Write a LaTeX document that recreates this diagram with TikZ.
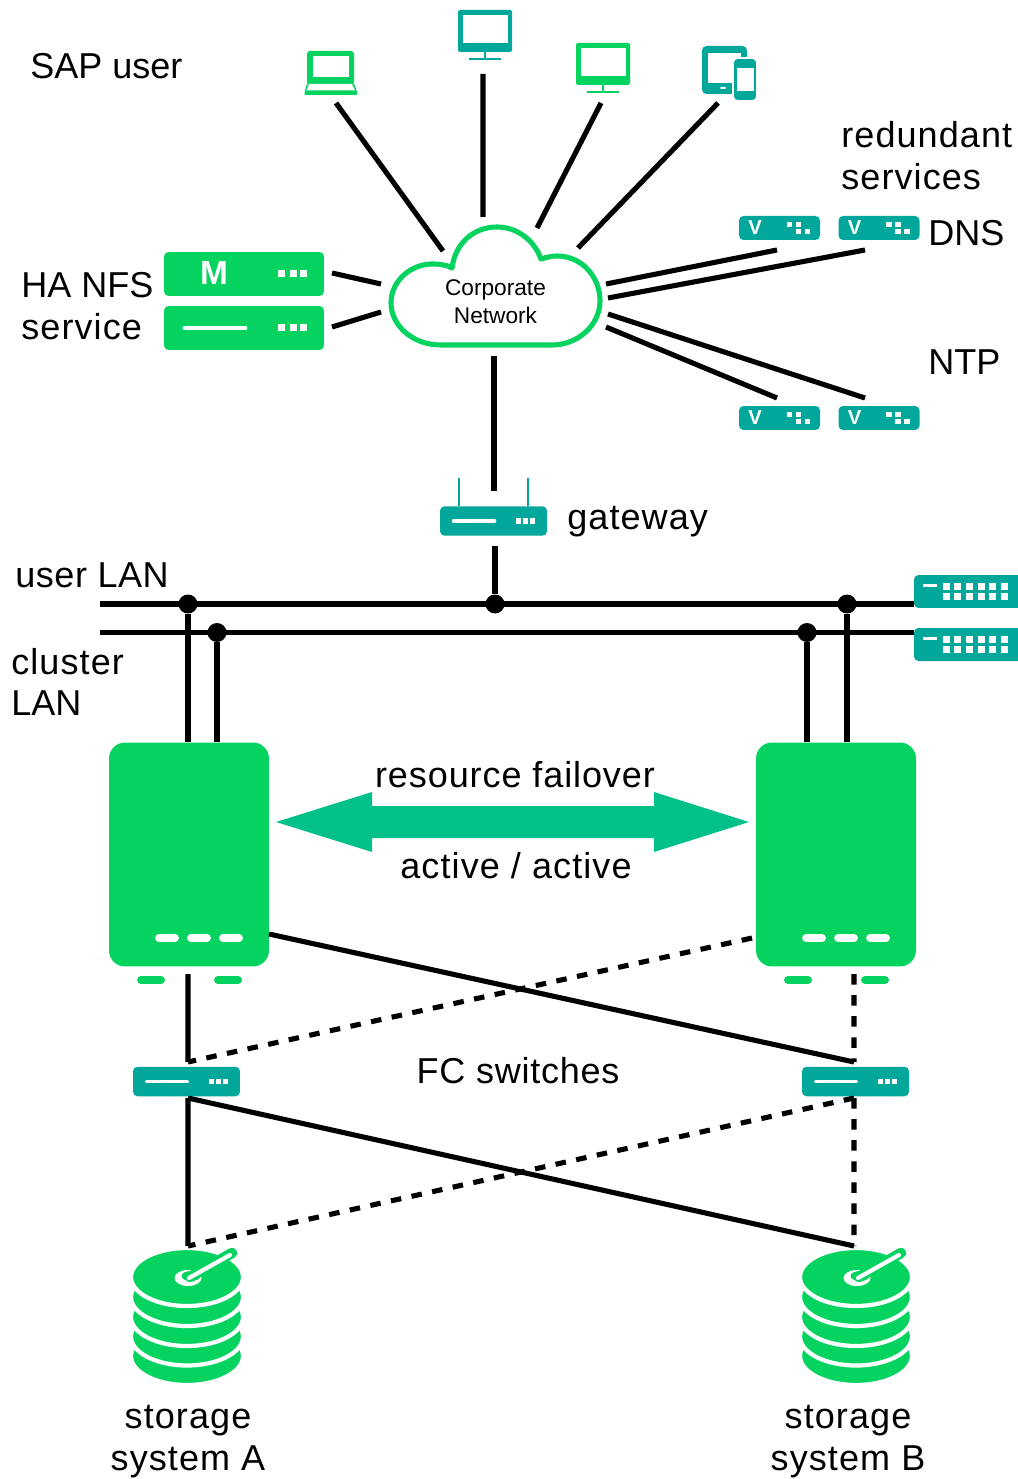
\documentclass[tikz,border=0pt]{standalone}
\usepackage{fontspec}
\setmainfont{Liberation Sans}
\usetikzlibrary{shapes.geometric}
\definecolor{netgreen}{HTML}{05D35F}
\definecolor{netteal}{HTML}{02A79B}
\definecolor{netarrow}{HTML}{02C08A}
\newcommand{\portrow}[3]{\foreach \sx in {#1} \fill[white] (\sx-#3/2,#2-#3/2) rectangle ++(#3,#3);}
\newcommand{\wideword}{\addfontfeature{LetterSpace=3}}
\tikzset{
  netlink/.style={line width=2.9pt},
  netdash/.style={line width=2.9pt,dash pattern=on 6pt off 6pt},
  labeltext/.style={inner sep=0pt,font=\fontsize{20.5}{23.8}\selectfont,align=left},
  joindot/.style={circle,fill=black,inner sep=0pt,minimum size=0.38cm},
  devbox/.style={rectangle,rounded corners=0.09cm,inner sep=0pt,fill=#1},
  pics/rackbox/.style={code={
    \node[devbox=netgreen,minimum width=3.2cm,minimum height=0.88cm] (box) at (0,0) {};
    \portrow{37.5,49,59.5}{0}{7}
  }},
  pics/vbox/.style={code={
    \node[devbox=netteal,minimum width=1.62cm,minimum height=0.48cm] (box) at (0,0) {};
    \node[white,inner sep=0pt,font=\fontsize{11.5}{12}\bfseries\selectfont] (tag) at (-24.5,0) {V};
    \portrow{10,19}{-3.5}{5.5}
    \portrow{19,28}{3.5}{5.5}
  }},
  pics/routerbox/.style={code={
    \node[devbox=netteal,minimum width=2.14cm,minimum height=0.59cm] (box) at (0,0) {};
    \draw[white,line width=2pt,line cap=round] (-40,0) -- (1,0);
    \portrow{25,32,39}{0}{5.5}
  }},
  pics/lanbox/.style={code={
    \node[devbox=netteal,minimum width=2.2cm,minimum height=0.66cm] (box) at (0,0) {};
    \draw[white,line width=1.7pt] (-46,-6) -- (-32,-6);
    \portrow{-23,-12,0,12,23,35}{-5}{7}
    \portrow{-23,-12,0,12,23,35}{5}{7}
  }},
  pics/monitorbox/.style={code={
    \node[devbox=#1,rounded corners=0.03cm,minimum width=1.08cm,minimum height=0.84cm] (box) at (0,0) {};
    \fill[white] (-22.5,-16) rectangle (22.5,12);
    \draw[#1,line width=1.1pt] (0,21) -- (0,28) (-16,28) -- (16,28);
  }},
  pics/serverbox/.style={code={
    \node[rectangle,rounded corners=0.32cm,inner sep=0pt,fill=netgreen,minimum width=3.2cm,minimum height=4.48cm] (box) at (0,0) {};
    \foreach \sx in {-22,10,42} \draw[white,line width=4.5pt,line cap=round] (\sx-8,83.5) -- (\sx+8,83.5);
    \foreach \sx in {-48,29} \draw[netgreen,line width=4.5pt,line cap=round] (\sx,125.5) -- (\sx+20,125.5);
  }},
  pics/diskstack/.style={code={
    \foreach \sy in {79,59.5,40,20} \fill[netgreen,draw=white,line width=2.4pt] (0,\sy) ellipse (56 and 29);
    \node[ellipse,fill=netgreen,draw=white,line width=2.4pt,inner sep=0pt,outer sep=0pt,minimum width=2.24cm,minimum height=1.16cm] (box) at (0,0) {};
    \fill[white] (1,1) ellipse (13.5 and 8);
    \fill[netgreen] (4,-1) ellipse (9.5 and 5);
    \draw[netgreen,line width=6pt,line cap=round] (3,0) -- (45,-24);
    \draw[white,line width=2.4pt,line cap=round] (2,1) -- (43,-22);
  }}
}
\begin{document}
\begin{tikzpicture}[x=0.02cm,y=-0.02cm]
    \useasboundingbox (0,0) rectangle (1017,1479);
    %
    \coordinate (lap) at (336,103);
    \coordinate (mona) at (483,74);
    \coordinate (monb) at (601,103);
    \coordinate (tab) at (718,103);
    \coordinate (cllap) at (443,251);
    \coordinate (clmona) at (483,217);
    \coordinate (clmonb) at (537,228);
    \coordinate (cltab) at (578,248);
    \coordinate (nfsa) at (332,273);
    \coordinate (nfsb) at (332,327);
    \coordinate (clnfsa) at (381,284);
    \coordinate (clnfsb) at (381,312);
    \coordinate (dnsa) at (777,250);
    \coordinate (dnsb) at (865,250);
    \coordinate (ntpa) at (777,398);
    \coordinate (ntpb) at (865,398);
    \coordinate (cldnsa) at (606,284);
    \coordinate (cldnsb) at (608,298);
    \coordinate (clntpb) at (608,314);
    \coordinate (clntpa) at (606,327);
    \coordinate (clgate) at (494,356);
    \coordinate (gatetop) at (494,491);
    \coordinate (gatelow) at (495,546);
    \coordinate (userend) at (100,604);
    \coordinate (clustend) at (100,632.5);
    %
    \coordinate (srvaout) at (269,934);
    \coordinate (srvbout) at (752,938);
    \coordinate (srvalow) at (188,974);
    \coordinate (srvblow) at (854,974);
    \coordinate (fcatop) at (188,1062);
    \coordinate (fcbtop) at (854,1062);
    \coordinate (fcalow) at (188,1098);
    \coordinate (fcblow) at (854,1098);
    \coordinate (diskatop) at (188,1246);
    \coordinate (diskbtop) at (854,1246);
    %
    % cloud
    \draw[netgreen,line width=2.9pt,line join=round] (441,345)
      .. controls (412,345) and (391,325) .. (391,303)
      .. controls (391,280) and (412,264) .. (432,264)
      .. controls (440,264) and (447,265) .. (452,268)
      .. controls (455,244) and (473,227) .. (497,227)
      .. controls (517,227) and (534,240) .. (541,259)
      .. controls (547,257) and (553,256) .. (557,256)
      .. controls (582,256) and (600,277) .. (600,301)
      .. controls (600,325) and (578,345) .. (552,345) -- cycle;
    \node[inner sep=0pt,align=center,font=\fontsize{12.9}{15.9}\selectfont] (corpnet) at (495.5,302) {Corporate\\Network};
    %
    % clients
    \fill[netgreen,rounded corners=0.06cm] (307,51) rectangle (354,85);
    \fill[white] (313,56) rectangle (349,77);
    \fill[netgreen,rounded corners=0.04cm] (307,83) -- (354,83) -- (358,95) -- (304,95) -- cycle;
    \fill[white] (309,84) -- (352,84) -- (355,90.5) -- (306.5,90.5) -- cycle;
    \pic (usera) at (485,31) {monitorbox=netteal};
    \pic (userb) at (603,64) {monitorbox=netgreen};
    \node[devbox=netteal,minimum width=0.9cm,minimum height=0.96cm] (tablet) at (724.5,70) {};
    \fill[white] (708,53) rectangle (741,83);
    \fill[white,rounded corners=0.02cm] (720,87) rectangle (726,89);
    \node[devbox=netteal,draw=white,line width=1pt,minimum width=0.48cm,minimum height=0.86cm] (phone) at (745,79.5) {};
    \fill[white] (736.5,68) rectangle (753.5,91);
    %
    % services
    \pic (nfsm) at (244,274) {rackbox};
    \pic (nfss) at (244,328) {rackbox};
    \node[white,inner sep=0pt,font=\fontsize{19}{20}\bfseries\selectfont] (nfsmtag) at (214,273.5) {M};
    \draw[white,line width=2.8pt,line cap=round] (185,328) -- (245,328);
    \pic (dnsl) at (779.5,228) {vbox};
    \pic (dnsr) at (879,228) {vbox};
    \pic (ntpl) at (779.5,418) {vbox};
    \pic (ntpr) at (879,418) {vbox};
    %
    \pic (gate) at (493.5,521) {routerbox};
    \draw[netteal,line width=1.6pt] (459,506) -- (459,478) (528,506) -- (528,478);
    %
    \pic (lanu) at (969,591.5) {lanbox};
    \pic (lanc) at (969,644.5) {lanbox};
    \pic (srva) at (189,854.5) {serverbox};
    \pic (srvb) at (836,854.5) {serverbox};
    \pic (fca) at (186.5,1081.5) {routerbox};
    \pic (fcb) at (855.5,1081.5) {routerbox};
    \pic (diska) at (187,1277) {diskstack};
    \pic (diskb) at (856,1277) {diskstack};
    %
    \node[joindot] (joinua) at (188,604) {};
    \node[joindot] (joing) at (495,604) {};
    \node[joindot] (joinub) at (847,604) {};
    \node[joindot] (joinca) at (217,632.5) {};
    \node[joindot] (joincb) at (807,632.5) {};
    %
    \draw[netlink] (lap) -- (cllap) (mona) -- (clmona) (monb) -- (clmonb) (tab) -- (cltab);
    \draw[netlink] (nfsa) -- (clnfsa) (nfsb) -- (clnfsb);
    \draw[netlink] (dnsa) -- (cldnsa) (dnsb) -- (cldnsb) (ntpa) -- (clntpa) (ntpb) -- (clntpb);
    \draw[netlink] (clgate) -- (gatetop) (gatelow) -- (joing);
    \draw[netlink] (userend) -- (lanubox.west |- userend);
    \draw[netlink] (clustend) -- (lancbox.west |- clustend);
    \draw[netlink] (joinua) -- (srvabox.north -| joinua);
    \draw[netlink] (joinca) -- (srvabox.north -| joinca);
    \draw[netlink] (joincb) -- (srvbbox.north -| joincb);
    \draw[netlink] (joinub) -- (srvbbox.north -| joinub);
    %
    \draw[netlink] (srvaout) -- (fcbtop) (srvalow) -- (fcatop);
    \draw[netdash] (srvbout) -- (fcatop) (srvblow) -- (fcbtop);
    \draw[netlink] (fcalow) -- (diskbtop) (fcalow) -- (diskatop);
    \draw[netdash] (fcblow) -- (diskatop) (fcblow) -- (diskbtop);
    %
    \fill[netarrow] (276,822) -- (372,792) -- (372,806) -- (654,806) -- (654,792) -- (749,822)
      -- (654,852) -- (654,838) -- (372,838) -- (372,852) -- cycle;
    %
    \node[labeltext,anchor=west] (sapuser) at (30,66) {SAP user};
    \node[labeltext,anchor=west] (redund) at (841,156) {\wideword redundant\\\wideword services};
    \node[labeltext,anchor=west] (dnslabel) at (928,233) {DNS};
    \node[labeltext,anchor=west] (ntplabel) at (928,362) {NTP};
    \node[labeltext,anchor=west] (nfslabel) at (21,306) {HA NFS\\\wideword service};
    \node[labeltext,anchor=west] (gatelabel) at (567,522) {\wideword gateway};
    \node[labeltext,anchor=west] (userlan) at (15,575) {\addfontfeature{LetterSpace=1.5}user LAN};
    \node[labeltext,anchor=west] (clustlan) at (11,682) {\wideword cluster\\LAN};
    \node[labeltext] (failover) at (515,775) {\addfontfeature{LetterSpace=2.5}resource failover};
    \node[labeltext] (actact) at (516,866) {\wideword active / active};
    \node[labeltext] (fclabel) at (518,1071) {\addfontfeature{LetterSpace=2}FC switches};
    \node[labeltext,align=center] (stora) at (188,1441.5) {\wideword storage\\\wideword system A};
    \node[labeltext,align=center] (storb) at (848,1441.5) {\wideword storage\\\wideword system B};
\end{tikzpicture}
\end{document}
